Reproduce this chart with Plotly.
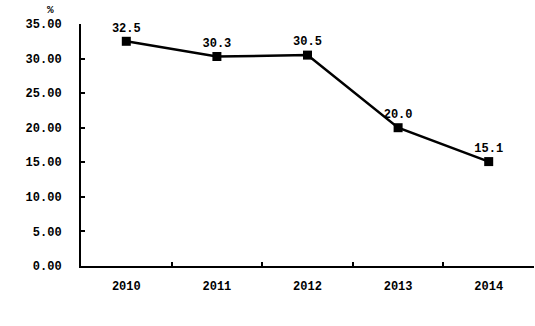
import plotly.graph_objects as go

years = ["2010", "2011", "2012", "2013", "2014"]
values = [32.5, 30.3, 30.5, 20.0, 15.1]
labels = ["32.5", "30.3", "30.5", "20.0", "15.1"]
y_ticks = [0, 5, 10, 15, 20, 25, 30, 35]
y_tick_text = ["0.00", "5.00", "10.00", "15.00", "20.00", "25.00", "30.00", "35.00"]

font = dict(family="Liberation Mono, DejaVu Sans Mono, monospace", size=12, color="black", weight="bold")

fig = go.Figure()
fig.add_trace(go.Scatter(
    x=years, y=values, mode="lines+markers+text",
    text=labels, textposition="top center", textfont=font,
    line=dict(color="black", width=2.5),
    marker=dict(symbol="square", size=9, color="black"),
    cliponaxis=False,
))
fig.update_layout(
    width=535, height=326,
    margin=dict(l=81, r=1, t=24, b=60),
    paper_bgcolor="white", plot_bgcolor="white",
    showlegend=False,
    font=font,
    xaxis=dict(type="category", tickson="boundaries", ticks="inside", ticklen=4,
               tickwidth=2, tickcolor="black", showline=True, linecolor="black",
               linewidth=2, showgrid=False, tickfont=font, ticklabelstandoff=8,
               range=[-0.5, 4.5]),
    yaxis=dict(range=[0, 35], tickvals=y_ticks, ticktext=y_tick_text,
               ticks="inside", ticklen=4, tickwidth=2, tickcolor="black",
               showline=True, linecolor="black", linewidth=2, showgrid=False,
               zeroline=False, tickfont=font, ticklabelstandoff=15),
    annotations=[dict(text="%", x=(50 - 81) / 453, y=1 + (24 - 10) / 242,
                      xref="paper", yref="paper",
                      xanchor="center", yanchor="middle",
                      showarrow=False, font=dict(font, size=11))],
)
fig.write_html("out.html")
